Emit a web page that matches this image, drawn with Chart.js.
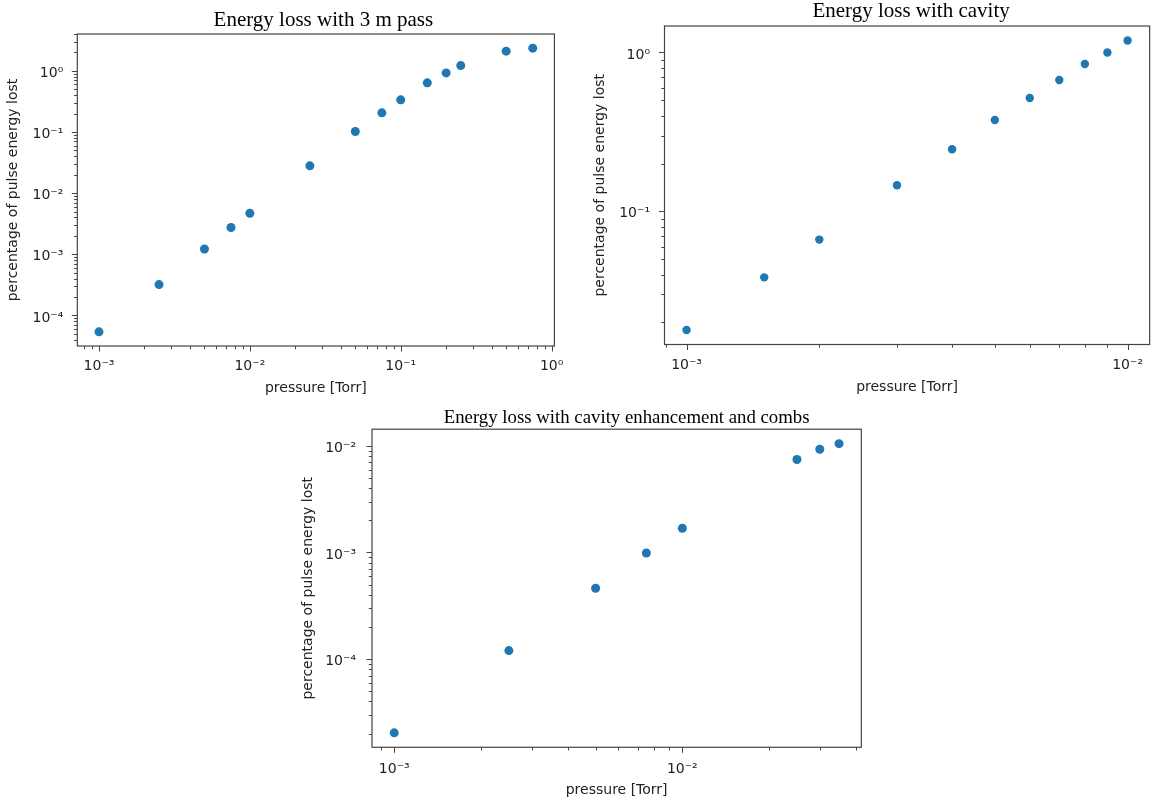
<!DOCTYPE html>
<html>
<head>
<meta charset="utf-8">
<title>Energy loss</title>
<script src="https://cdn.jsdelivr.net/npm/chart.js@4.4.1/dist/chart.umd.min.js"></script>
<style>
  html, body { margin: 0; padding: 0; background: #fff; }
  body { width: 1156px; height: 803px; position: relative; overflow: hidden; }
  canvas { position: absolute; }
</style>
</head>
<body>
<canvas id="pass" width="575" height="400" style="left:0;top:0"></canvas>
<canvas id="cavity" width="576" height="400" style="left:580px;top:0"></canvas>
<canvas id="combs" width="600" height="403" style="left:290px;top:400px"></canvas>
<script>
// 3 m pass
const pressurePass = [0.001, 0.0025, 0.005, 0.0075, 0.01, 0.025, 0.05, 0.075, 0.1, 0.15, 0.2, 0.25, 0.5, 0.75];
const lossPass = [5.4e-5, 3.2e-4, 1.22e-3, 2.75e-3, 4.7e-3, 0.028, 0.102, 0.206, 0.336, 0.637, 0.927, 1.22, 2.1, 2.35];

// cavity
const pressureCavity = [0.001, 0.0015, 0.002, 0.003, 0.004, 0.005, 0.006, 0.007, 0.008, 0.009, 0.01];
const lossCavity = [0.0179, 0.0384, 0.0664, 0.146, 0.246, 0.376, 0.517, 0.671, 0.846, 1.0, 1.19];

// cavity enhancement and combs
const pressureComb = [0.001, 0.0025, 0.005, 0.0075, 0.01, 0.025, 0.03, 0.035];
const lossComb = [2.03e-5, 1.2e-4, 4.62e-4, 9.9e-4, 1.69e-3, 7.45e-3, 9.3e-3, 0.0105];

const xTitle = 'pressure [Torr]';
const yTitle = 'percentage of pulse energy lost';

const sup = { '-': '\u207B', '0': '\u2070', '1': '\u00B9', '2': '\u00B2', '3': '\u00B3',
  '4': '\u2074', '5': '\u2075', '6': '\u2076', '7': '\u2077', '8': '\u2078', '9': '\u2079' };

const tickFont = { family: '"DejaVu Sans", sans-serif', size: 14 };

function isDecade(v) {
  const e = Math.log10(v);
  return Math.abs(e - Math.round(e)) < 1e-6;
}

function decadeLabel(v) {
  if (!isDecade(v)) return '';
  return '10' + String(Math.round(Math.log10(v))).split('').map(c => sup[c]).join('');
}

// matplotlib style 5% margin in log space
function logRange(values) {
  const lo = Math.log10(Math.min(...values));
  const hi = Math.log10(Math.max(...values));
  const pad = (hi - lo) * 0.05;
  return { min: Math.pow(10, lo - pad), max: Math.pow(10, hi + pad) };
}

function logTicks(scale) {
  const ticks = [];
  const e0 = Math.floor(Math.log10(scale.min));
  const e1 = Math.ceil(Math.log10(scale.max));
  for (let e = e0; e <= e1; e++) {
    for (let m = 1; m < 10; m++) {
      const v = parseFloat((m * Math.pow(10, e)).toPrecision(10));
      if (v >= scale.min && v <= scale.max) ticks.push({ value: v });
    }
  }
  scale.ticks = ticks;
}

// box around the axes + outward tick marks
const frame = {
  id: 'frame',
  afterDraw(chart) {
    const { ctx, chartArea: a, scales } = chart;
    ctx.save();
    ctx.strokeStyle = '#444';
    ctx.lineWidth = 1.2;
    ctx.strokeRect(a.left, a.top, a.right - a.left, a.bottom - a.top);
    ctx.lineWidth = 1;
    ctx.beginPath();
    scales.x.ticks.forEach(t => {
      const px = Math.round(scales.x.getPixelForValue(t.value)) + 0.5;
      const len = isDecade(t.value) ? 5.5 : 3.2;
      ctx.moveTo(px, a.bottom);
      ctx.lineTo(px, a.bottom + len);
    });
    scales.y.ticks.forEach(t => {
      const py = Math.round(scales.y.getPixelForValue(t.value)) + 0.5;
      const len = isDecade(t.value) ? 5.5 : 3.2;
      ctx.moveTo(a.left, py);
      ctx.lineTo(a.left - len, py);
    });
    ctx.stroke();
    ctx.restore();
  }
};

// serif title over the axes (placed a bit right of centre like the source)
const axesTitle = {
  id: 'axesTitle',
  afterDraw(chart, args, o) {
    const { ctx, chartArea: a } = chart;
    ctx.save();
    ctx.fillStyle = '#000';
    ctx.font = o.size + 'px "Liberation Serif", "Times New Roman", serif';
    ctx.textAlign = 'center';
    ctx.textBaseline = 'alphabetic';
    ctx.fillText(o.text, (a.left + a.right) / 2 + o.shift, o.baseline);
    ctx.restore();
  }
};

function makeChart(id, xs, ys, p) {
  const xr = logRange(xs);
  const yr = logRange(ys);
  return new Chart(document.getElementById(id), {
    type: 'scatter',
    data: {
      datasets: [{
        data: xs.map((x, i) => ({ x: x, y: ys[i] })),
        backgroundColor: '#1f77b4',
        borderWidth: 0,
        pointRadius: p.radius,
        pointHoverRadius: p.radius
      }]
    },
    options: {
      responsive: false,
      animation: false,
      devicePixelRatio: 1,
      layout: { padding: { left: 0, top: p.top, right: p.padRight, bottom: 0 } },
      plugins: {
        legend: { display: false },
        tooltip: { enabled: false },
        title: { display: false },
        axesTitle: { text: p.title, size: p.titleSize, baseline: p.titleBase, shift: p.titleShift }
      },
      scales: {
        x: {
          type: 'logarithmic',
          position: 'bottom',
          min: xr.min,
          max: xr.max,
          bounds: 'data',
          afterBuildTicks: logTicks,
          afterFit: s => { s.height = p.xHeight; },
          grid: { display: false, drawTicks: false },
          border: { display: false },
          ticks: { autoSkip: false, maxRotation: 0, minRotation: 0, padding: p.xTickPad,
            color: '#222', font: tickFont, callback: decadeLabel },
          title: { display: true, text: xTitle, color: '#222', font: tickFont,
            padding: { top: 0, bottom: p.xTitlePad } }
        },
        y: {
          type: 'logarithmic',
          position: 'left',
          min: yr.min,
          max: yr.max,
          bounds: 'data',
          afterBuildTicks: logTicks,
          afterFit: s => { s.width = p.yWidth; },
          grid: { display: false, drawTicks: false },
          border: { display: false },
          ticks: { autoSkip: false, padding: p.yTickPad, labelOffset: 2.5,
            color: '#222', font: tickFont, callback: decadeLabel },
          title: { display: true, text: yTitle, color: '#222', font: tickFont,
            padding: { top: p.yTitlePad, bottom: 0 } }
        }
      }
    },
    plugins: [frame, axesTitle]
  });
}

makeChart('pass', pressurePass, lossPass, {
  title: 'Energy loss with 3 m pass', titleSize: 21, titleBase: 26, titleShift: 7.5, top: 34,
  yWidth: 77.3, xHeight: 54, padRight: 16.5,
  xTickPad: 11.6, yTickPad: 14, xTitlePad: 3.6, yTitlePad: 5.1, radius: 4.5
});

makeChart('cavity', pressureCavity, lossCavity, {
  title: 'Energy loss with cavity', titleSize: 21, titleBase: 17.3, titleShift: 4, top: 26,
  yWidth: 84.5, xHeight: 55.5, padRight: 2.8,
  xTickPad: 12.8, yTickPad: 14.5, xTitlePad: 3.9, yTitlePad: 11.6, radius: 4.2
});

makeChart('combs', pressureComb, lossComb, {
  title: 'Energy loss with cavity enhancement and combs', titleSize: 18.8, titleBase: 23.3, titleShift: 10, top: 29.2,
  yWidth: 82, xHeight: 55.7, padRight: 28.7,
  xTickPad: 13.6, yTickPad: 16, xTitlePad: 3.9, yTitlePad: 9.6, radius: 4.5
});
</script>
</body>
</html>
